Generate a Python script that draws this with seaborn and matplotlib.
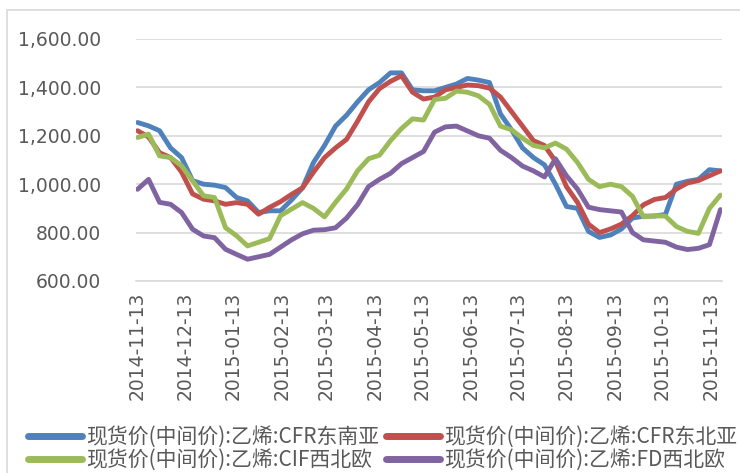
import numpy as np
import pandas as pd
import matplotlib
matplotlib.use("Agg")
import matplotlib.pyplot as plt
import matplotlib.dates as mdates
from matplotlib.lines import Line2D
from matplotlib.patches import Rectangle
from matplotlib.ticker import FuncFormatter
import seaborn as sns

# 周度采样（2014-11-13 起，每周四）
dates = pd.date_range("2014-11-13", periods=54, freq="7D")

cfr_se_asia = [1255, 1241, 1221, 1150, 1110, 1015, 1000, 996, 986, 945,
               931, 883, 890, 890, 935, 985, 1090, 1160, 1240, 1285,
               1340, 1390, 1420, 1460, 1460, 1390, 1386, 1386, 1400, 1414,
               1437, 1430, 1420, 1290, 1225, 1150, 1110, 1080, 1000, 908,
               900, 805, 780, 790, 815, 860, 868, 868, 875, 1000,
               1012, 1020, 1060, 1055]
cfr_ne_asia = [1221, 1195, 1130, 1110, 1050, 960, 938, 931, 917, 924,
               917, 876, 904, 928, 958, 985, 1050, 1110, 1150, 1185,
               1260, 1340, 1395, 1425, 1448, 1380, 1352, 1360, 1390, 1400,
               1410, 1407, 1397, 1360, 1300, 1240, 1180, 1160, 1095, 990,
               925, 835, 800, 815, 835, 870, 915, 937, 945, 980,
               1005, 1015, 1035, 1055]
cif_nw_europe = [1193, 1207, 1117, 1110, 1076, 1014, 952, 945, 820, 787,
                 745, 760, 775, 870, 897, 924, 900, 865, 925, 980,
                 1055, 1105, 1120, 1180, 1230, 1270, 1265, 1350, 1355, 1385,
                 1380, 1365, 1330, 1240, 1225, 1190, 1160, 1150, 1170, 1145,
                 1090, 1020, 990, 1000, 990, 950, 865, 870, 868, 825,
                 805, 797, 900, 955]
fd_nw_europe = [979, 1020, 925, 917, 883, 814, 786, 779, 731, 710,
                690, 700, 710, 740, 770, 795, 810, 812, 820, 860,
                915, 990, 1020, 1045, 1085, 1110, 1135, 1215, 1237, 1240,
                1220, 1200, 1190, 1140, 1110, 1075, 1055, 1030, 1105, 1035,
                980, 905, 895, 890, 885, 800, 770, 765, 760, 740,
                730, 735, 750, 895]

series_names = ["现货价(中间价):乙烯:CFR东南亚", "现货价(中间价):乙烯:CFR东北亚",
                "现货价(中间价):乙烯:CIF西北欧", "现货价(中间价):乙烯:FD西北欧"]
colors = ["#4F81BD", "#C0504D", "#9BBB59", "#8064A2"]

df = pd.concat([
    pd.DataFrame({"date": dates, "value": vals, "series": name})
    for name, vals in zip(series_names, [cfr_se_asia, cfr_ne_asia, cif_nw_europe, fd_nw_europe])
])

sns.set_theme(style="white")
plt.rcParams["font.family"] = ["DejaVu Sans", "Noto Sans CJK SC"]

fig = plt.figure(figsize=(7.4, 4.73), dpi=100)
ax = fig.add_axes([136 / 740, 1 - 281 / 473, 586 / 740, 242 / 473])

sns.lineplot(data=df, x="date", y="value", hue="series", hue_order=series_names,
             palette=colors, linewidth=3.5, legend=False, ax=ax)
for ln in ax.lines:
    ln.set_solid_capstyle("round")
    ln.set_solid_joinstyle("round")

ax.set_ylim(600, 1600)
ax.set_yticks(np.arange(600, 1601, 200))
ax.yaxis.set_major_formatter(FuncFormatter(lambda v, p: f"{v:,.2f}"))
ax.set_xlim(pd.Timestamp("2014-11-12"), pd.Timestamp("2015-11-20"))
ax.set_xticks(pd.date_range("2014-11-01", "2015-11-01", freq="MS") + pd.Timedelta(days=12))
ax.xaxis.set_major_formatter(mdates.DateFormatter("%Y-%m-%d"))
ax.set_xlabel("")
ax.set_ylabel("")

ax.grid(axis="y", color="#D9D9D9", linewidth=1.2)
ax.set_axisbelow(True)
for s in ["top", "right", "left"]:
    ax.spines[s].set_visible(False)
ax.spines["bottom"].set_color("#D9D9D9")
ax.spines["bottom"].set_linewidth(1.2)
ax.tick_params(axis="x", which="major", direction="out", length=5, width=1.2,
               color="#D9D9D9", labelsize=13.5, labelcolor="#595959", rotation=90, pad=3)
ax.tick_params(axis="y", length=0, labelsize=13.5, labelcolor="#595959", pad=25)

# 图例分两列
fp = {"family": ["Noto Sans CJK SC", "DejaVu Sans"], "size": 15}
for col, anchor_x in [(0, 28 / 740), (1, 386 / 740)]:
    idx = [col, col + 2]
    handles = [Line2D([], [], color=colors[i], linewidth=5, solid_capstyle="round") for i in idx]
    labels = [series_names[i] for i in idx]
    fig.legend(handles, labels, loc="upper left", bbox_to_anchor=(anchor_x, 1 - 426 / 473),
               frameon=False, prop=fp, handlelength=2.6, handletextpad=0.2,
               labelspacing=0.05, borderaxespad=0, borderpad=0, labelcolor="#595959")

fig.add_artist(Rectangle((7 / 740, -0.05), 1.0, 1.05 - 10 / 473, transform=fig.transFigure,
                         fill=False, edgecolor="#D9D9D9", linewidth=1.2))

fig.savefig("out.png", dpi=100)
